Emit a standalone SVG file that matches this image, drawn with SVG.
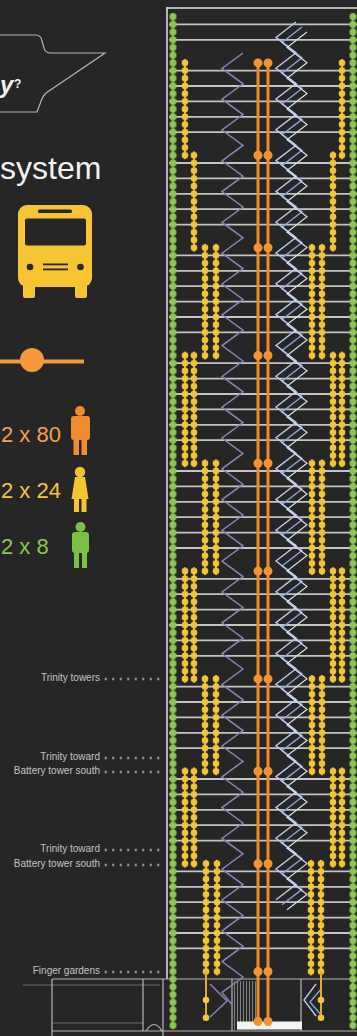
<svg xmlns="http://www.w3.org/2000/svg" width="357" height="1036" viewBox="0 0 357 1036">
<defs>
<style>
.floor{stroke:#c4c4c4;stroke-width:1.8;fill:none}
.wall{stroke:#e4e4e4;stroke-width:1.5;fill:none}
.outline{stroke:#b4b4b4;stroke-width:1.2;fill:none}
.stair{stroke:#8a82b6;stroke-width:1.5;fill:none}
.esc-a{stroke:#b9cbec;stroke-width:1.4;fill:none}
.esc-b{stroke:#8aa3d8;stroke-width:1.4;fill:none}
.esc-c{stroke:#d6dff2;stroke-width:1.2;fill:none}
.express{stroke:#f08a24;stroke-width:3;fill:none}
.stop{fill:#f29433}
.dark{fill:#262626}
.label{font-family:"Liberation Sans",Arial,sans-serif;font-size:10px;fill:#c2c2c2;text-anchor:end}
.count{font-family:"Liberation Sans",Arial,sans-serif;font-size:22px}
</style>
<!-- green local lift: dot every half floor, joined by a rail -->
<pattern id="gdots" patternUnits="userSpaceOnUse" x="-4.5" y="5.15" width="9" height="7.7">
<rect x="3.5" y="0" width="2" height="7.7" fill="#74b044"/>
<circle cx="4.5" cy="3.85" r="3.5" fill="#8cc653"/>
</pattern>
<!-- yellow shuttle lift -->
<pattern id="ydots" patternUnits="userSpaceOnUse" x="-4" y="5.15" width="8" height="7.7">
<rect x="3" y="0" width="2" height="7.7" fill="#e2ad26"/>
<circle cx="4" cy="3.85" r="3.3" fill="#f3c433"/>
</pattern>
<!-- leader dots for the side labels -->
<pattern id="lead" patternUnits="userSpaceOnUse" x="102" y="-1.5" width="7.5" height="3">
<circle cx="3.75" cy="1.5" r="1.1" fill="#d0d0d0"/>
</pattern>
</defs>

<rect width="357" height="1036" fill="#262626"/>

<!-- legend -->
<g id="bubble">
<path class="outline" stroke="#cccccc" stroke-width="1.6" d="M-2 35H36Q41 35 42 41L44 48Q45 53 51 53H105L46 93Q42 97 40 104L37 112H-2"/>
<text x="0" y="93" font-family="Liberation Sans,Arial,sans-serif" font-size="24" font-weight="bold" font-style="italic" fill="#f2f2f2">y</text>
<text x="14" y="88" font-family="Liberation Sans,Arial,sans-serif" font-size="12" font-weight="bold" fill="#f2f2f2">?</text>
</g>
<text id="title" x="0" y="178.5" font-family="Liberation Sans,Arial,sans-serif" font-size="32" fill="#f2f2f2">system</text>

<g id="bus">
<rect x="18" y="205" width="74" height="82" rx="9" fill="#f7c531"/>
<rect x="23" y="282" width="12" height="16" rx="2" fill="#f7c531"/>
<rect x="75" y="282" width="12" height="16" rx="2" fill="#f7c531"/>
<rect x="38" y="209.5" width="34" height="3.5" rx="1.5" class="dark"/>
<rect x="25" y="218.5" width="61" height="27" rx="2" class="dark"/>
<circle cx="30" cy="267" r="3.3" class="dark"/>
<circle cx="80.5" cy="267" r="3.3" class="dark"/>
<rect x="43" y="263.5" width="25" height="1.8" class="dark"/>
<rect x="43" y="268.5" width="25" height="1.8" class="dark"/>
</g>

<g id="express-key">
<line x1="0" y1="361.5" x2="84" y2="361.5" stroke="#f39a3a" stroke-width="4"/>
<circle cx="32" cy="360" r="12" fill="#f39a3a"/>
</g>

<g id="key-80">
<text class="count" x="1" y="442" fill="#f0a24e">2 x 80</text>
<circle cx="80" cy="411" r="5" fill="#f28a2e"/>
<rect x="71" y="416" width="19" height="24" rx="3" fill="#f28a2e"/>
<rect x="73.5" y="438" width="5.5" height="17" fill="#f28a2e"/>
<rect x="81.5" y="438" width="5.5" height="17" fill="#f28a2e"/>
</g>
<g id="key-24">
<text class="count" x="1" y="498" fill="#f2c53e">2 x 24</text>
<circle cx="80" cy="472" r="5.2" fill="#f5c52c"/>
<path d="M75 477H85L88.5 499H71.5Z" fill="#f5c52c"/>
<rect x="74" y="497" width="5" height="15" fill="#f5c52c"/>
<rect x="81.5" y="497" width="5" height="15" fill="#f5c52c"/>
</g>
<g id="key-8">
<text class="count" x="1" y="554" fill="#8cc653">2 x 8</text>
<circle cx="80.5" cy="527" r="5" fill="#7cc043"/>
<rect x="72" y="532" width="17" height="21" rx="3" fill="#7cc043"/>
<rect x="74" y="551" width="5" height="17" fill="#7cc043"/>
<rect x="82" y="551" width="5" height="17" fill="#7cc043"/>
</g>

<!-- level labels with dotted leaders -->
<g id="labels">
<text class="label" x="100" y="681">Trinity towers</text>
<rect x="102" y="-1.5" width="58" height="3" fill="url(#lead)" transform="translate(0 679)"/>
<text class="label" x="100" y="760">Trinity toward</text>
<rect x="102" y="-1.5" width="58" height="3" fill="url(#lead)" transform="translate(0 758)"/>
<text class="label" x="100" y="774">Battery tower south</text>
<rect x="102" y="-1.5" width="58" height="3" fill="url(#lead)" transform="translate(0 772)"/>
<text class="label" x="100" y="852">Trinity toward</text>
<rect x="102" y="-1.5" width="58" height="3" fill="url(#lead)" transform="translate(0 850)"/>
<text class="label" x="100" y="867">Battery tower south</text>
<rect x="102" y="-1.5" width="58" height="3" fill="url(#lead)" transform="translate(0 865)"/>
<text class="label" x="100" y="974">Finger gardens</text>
<rect x="102" y="-1.5" width="58" height="3" fill="url(#lead)" transform="translate(0 972)"/>
</g>

<!-- tower section -->
<g id="floors">
<path class="wall" d="M167 8H357M167 7V979"/>
<path class="floor" d="M169 24.4H357M169 39.8H357M169 70.6H357M169 86H357M169 101.4H357M169 116.8H357M169 132.2H357M169 163H357M169 178.4H357M169 193.8H357M169 209.2H357M169 224.6H357M169 255.4H357M169 270.8H357M169 286.2H357M169 301.6H357M169 317H357M169 332.4H357M169 363.2H357M169 378.6H357M169 394H357M169 409.4H357M169 424.8H357M169 440.2H357M169 471H357M169 486.4H357M169 501.8H357M169 517.2H357M169 532.6H357M169 548H357M169 578.8H357M169 594.2H357M169 609.6H357M169 625H357M169 640.4H357M169 655.8H357M169 686.6H357M169 702H357M169 717.4H357M169 732.8H357M169 748.2H357M169 779H357M169 794.4H357M169 809.8H357M169 825.2H357M169 840.6H357M169 871.4H357M169 886.8H357M169 902.2H357M169 917.6H357M169 933H357M169 948.4H357"/>
</g>

<g id="base">
<path class="outline" d="M52 979H357M52 979V1036M143 979V1031M163 979V1036M52 1031H357M232 979V1031M301 979V1031M146 1031Q154 1018 162 1031"/>
<path class="outline" opacity="0.5" d="M52 1023H143M23 985H160"/>
<path stroke="#8a8a8a" stroke-width="0.9" d="M234.5 981V1030M237.5 981V1030M240.5 981V1030M243.5 981V1030M246.5 981V1030M249.5 981V1030M252.5 981V1030M255.5 981V1030"/>
<rect x="237" y="1021.5" width="65" height="8" fill="#f4f4f4"/>
</g>

<g id="stairs">
<path class="stair" d="M243 53l-21 15.4 21 15.4 -21 15.4 21 15.4 -21 15.4 21 15.4 -21 15.4 21 15.4 -21 15.4 21 15.4 -21 15.4 21 15.4 -21 15.4 21 15.4 -21 15.4 21 15.4 -21 15.4 21 15.4 -21 15.4 21 15.4 -21 15.4 21 15.4 -21 15.4 21 15.4 -21 15.4 21 15.4 -21 15.4 21 15.4 -21 15.4 21 15.4 -21 15.4 21 15.4 -21 15.4 21 15.4 -21 15.4 21 15.4 -21 15.4 21 15.4 -21 15.4 21 15.4 -21 15.4 21 15.4 -21 15.4 21 15.4 -21 15.4 21 15.4 -21 15.4 21 15.4 -21 15.4 21 15.4 -21 15.4 21 15.4 -21 15.4 21 15.4 -21 15.4 21 15.4 -21 15.4 21 15.4 -21 15.4 21 15.4 -21 15.4 10 12"/>
<path class="stair" d="M210 984L227 1001L210 1017"/>
</g>

<g id="escalators">
<path class="esc-b" d="M302 27l-20 15.4 20 15.4 -20 15.4 20 15.4 -20 15.4 20 15.4 -20 15.4 20 15.4 -20 15.4 20 15.4 -20 15.4 20 15.4 -20 15.4 20 15.4 -20 15.4 20 15.4 -20 15.4 20 15.4 -20 15.4 20 15.4 -20 15.4 20 15.4 -20 15.4 20 15.4 -20 15.4 20 15.4 -20 15.4 20 15.4 -20 15.4 20 15.4 -20 15.4 20 15.4 -20 15.4 20 15.4 -20 15.4 20 15.4 -20 15.4 20 15.4 -20 15.4 20 15.4 -20 15.4 20 15.4 -20 15.4 20 15.4 -20 15.4 20 15.4 -20 15.4 20 15.4 -20 15.4 20 15.4 -20 15.4 20 15.4 -20 15.4 20 15.4 -20 15.4 20 15.4 -20 15.4"/>
<path class="esc-a" d="M296 22l-20 15.4 20 15.4 -20 15.4 20 15.4 -20 15.4 20 15.4 -20 15.4 20 15.4 -20 15.4 20 15.4 -20 15.4 20 15.4 -20 15.4 20 15.4 -20 15.4 20 15.4 -20 15.4 20 15.4 -20 15.4 20 15.4 -20 15.4 20 15.4 -20 15.4 20 15.4 -20 15.4 20 15.4 -20 15.4 20 15.4 -20 15.4 20 15.4 -20 15.4 20 15.4 -20 15.4 20 15.4 -20 15.4 20 15.4 -20 15.4 20 15.4 -20 15.4 20 15.4 -20 15.4 20 15.4 -20 15.4 20 15.4 -20 15.4 20 15.4 -20 15.4 20 15.4 -20 15.4 20 15.4 -20 15.4 20 15.4 -20 15.4 20 15.4 -20 15.4 20 15.4 -20 15.4"/>
<path class="esc-c" d="M307 32l-20 15.4 20 15.4 -20 15.4 20 15.4 -20 15.4 20 15.4 -20 15.4 20 15.4 -20 15.4 20 15.4 -20 15.4 20 15.4 -20 15.4 20 15.4 -20 15.4 20 15.4 -20 15.4 20 15.4 -20 15.4 20 15.4 -20 15.4 20 15.4 -20 15.4 20 15.4 -20 15.4 20 15.4 -20 15.4 20 15.4 -20 15.4 20 15.4 -20 15.4 20 15.4 -20 15.4 20 15.4 -20 15.4 20 15.4 -20 15.4 20 15.4 -20 15.4 20 15.4 -20 15.4 20 15.4 -20 15.4 20 15.4 -20 15.4 20 15.4 -20 15.4 20 15.4 -20 15.4 20 15.4 -20 15.4 20 15.4 -20 15.4 20 15.4 -20 15.4 20 15.4 -20 15.4"/>
<path class="esc-a" d="M316 984L304 1000L316 1016"/>
<path class="esc-b" d="M322 988L310 1002L322 1016"/>
</g>

<g id="express">
<path class="express" d="M258 62.9V1021.5M268 62.9V1021.5"/>
<g class="stop">
<circle cx="258" cy="62.9" r="4.5"/><circle cx="268" cy="62.9" r="4.5"/>
<circle cx="258" cy="155.3" r="4.5"/><circle cx="268" cy="155.3" r="4.5"/>
<circle cx="258" cy="247.7" r="4.5"/><circle cx="268" cy="247.7" r="4.5"/>
<circle cx="258" cy="355.5" r="4.5"/><circle cx="268" cy="355.5" r="4.5"/>
<circle cx="258" cy="463.3" r="4.5"/><circle cx="268" cy="463.3" r="4.5"/>
<circle cx="258" cy="571.1" r="4.5"/><circle cx="268" cy="571.1" r="4.5"/>
<circle cx="258" cy="678.9" r="4.5"/><circle cx="268" cy="678.9" r="4.5"/>
<circle cx="258" cy="771.3" r="4.5"/><circle cx="268" cy="771.3" r="4.5"/>
<circle cx="258" cy="863.7" r="4.5"/><circle cx="268" cy="863.7" r="4.5"/>
<circle cx="258" cy="971.5" r="4.5"/><circle cx="268" cy="971.5" r="4.5"/>
<circle cx="258" cy="1021.5" r="4.5"/><circle cx="268" cy="1021.5" r="4.5"/>
</g>
</g>

<g id="local-green">
<rect x="-4.5" y="12.85" width="9" height="1016.4" fill="url(#gdots)" transform="translate(173 0)"/>
<rect x="-4.5" y="12.85" width="9" height="1016.4" fill="url(#gdots)" transform="translate(353 0)"/>
</g>

<g id="shuttle-yellow">
<!-- zone 1 -->
<rect x="-4" y="59.05" width="8" height="100.1" fill="url(#ydots)" transform="translate(185 0)"/>
<rect x="-4" y="59.05" width="8" height="100.1" fill="url(#ydots)" transform="translate(342 0)"/>
<!-- zone 2 -->
<rect x="-4" y="151.45" width="8" height="100.1" fill="url(#ydots)" transform="translate(194 0)"/>
<rect x="-4" y="151.45" width="8" height="100.1" fill="url(#ydots)" transform="translate(333 0)"/>
<!-- zone 3 -->
<rect x="-4" y="243.85" width="8" height="115.5" fill="url(#ydots)" transform="translate(205 0)"/>
<rect x="-4" y="243.85" width="8" height="115.5" fill="url(#ydots)" transform="translate(216 0)"/>
<rect x="-4" y="243.85" width="8" height="115.5" fill="url(#ydots)" transform="translate(312 0)"/>
<rect x="-4" y="243.85" width="8" height="115.5" fill="url(#ydots)" transform="translate(322 0)"/>
<!-- zone 4 -->
<rect x="-4" y="351.65" width="8" height="115.5" fill="url(#ydots)" transform="translate(185 0)"/>
<rect x="-4" y="351.65" width="8" height="115.5" fill="url(#ydots)" transform="translate(194 0)"/>
<rect x="-4" y="351.65" width="8" height="115.5" fill="url(#ydots)" transform="translate(333 0)"/>
<rect x="-4" y="351.65" width="8" height="115.5" fill="url(#ydots)" transform="translate(342 0)"/>
<!-- zone 5 -->
<rect x="-4" y="459.45" width="8" height="115.5" fill="url(#ydots)" transform="translate(205 0)"/>
<rect x="-4" y="459.45" width="8" height="115.5" fill="url(#ydots)" transform="translate(216 0)"/>
<rect x="-4" y="459.45" width="8" height="115.5" fill="url(#ydots)" transform="translate(312 0)"/>
<rect x="-4" y="459.45" width="8" height="115.5" fill="url(#ydots)" transform="translate(322 0)"/>
<!-- zone 6 -->
<rect x="-4" y="567.25" width="8" height="115.5" fill="url(#ydots)" transform="translate(185 0)"/>
<rect x="-4" y="567.25" width="8" height="115.5" fill="url(#ydots)" transform="translate(194 0)"/>
<rect x="-4" y="567.25" width="8" height="115.5" fill="url(#ydots)" transform="translate(333 0)"/>
<rect x="-4" y="567.25" width="8" height="115.5" fill="url(#ydots)" transform="translate(342 0)"/>
<!-- zone 7 -->
<rect x="-4" y="675.05" width="8" height="100.1" fill="url(#ydots)" transform="translate(205 0)"/>
<rect x="-4" y="675.05" width="8" height="100.1" fill="url(#ydots)" transform="translate(216 0)"/>
<rect x="-4" y="675.05" width="8" height="100.1" fill="url(#ydots)" transform="translate(312 0)"/>
<rect x="-4" y="675.05" width="8" height="100.1" fill="url(#ydots)" transform="translate(322 0)"/>
<!-- zone 8 -->
<rect x="-4" y="767.45" width="8" height="100.1" fill="url(#ydots)" transform="translate(185 0)"/>
<rect x="-4" y="767.45" width="8" height="100.1" fill="url(#ydots)" transform="translate(194 0)"/>
<rect x="-4" y="767.45" width="8" height="100.1" fill="url(#ydots)" transform="translate(333 0)"/>
<rect x="-4" y="767.45" width="8" height="100.1" fill="url(#ydots)" transform="translate(342 0)"/>
<!-- zone 9 -->
<rect x="-4" y="859.85" width="8" height="115.5" fill="url(#ydots)" transform="translate(206 0)"/>
<rect x="-4" y="859.85" width="8" height="115.5" fill="url(#ydots)" transform="translate(217 0)"/>
<rect x="-4" y="859.85" width="8" height="115.5" fill="url(#ydots)" transform="translate(311 0)"/>
<rect x="-4" y="859.85" width="8" height="115.5" fill="url(#ydots)" transform="translate(321 0)"/>
<!-- podium run -->
<path d="M206 971.5V1017.7M321 971.5V1017.7" stroke="#e2ad26" stroke-width="2"/>
<g fill="#f3c433">
<circle cx="206" cy="1000" r="3.3"/><circle cx="206" cy="1017.7" r="3.3"/>
<circle cx="321" cy="1000" r="3.3"/><circle cx="321" cy="1017.7" r="3.3"/>
</g>
</g>
</svg>
